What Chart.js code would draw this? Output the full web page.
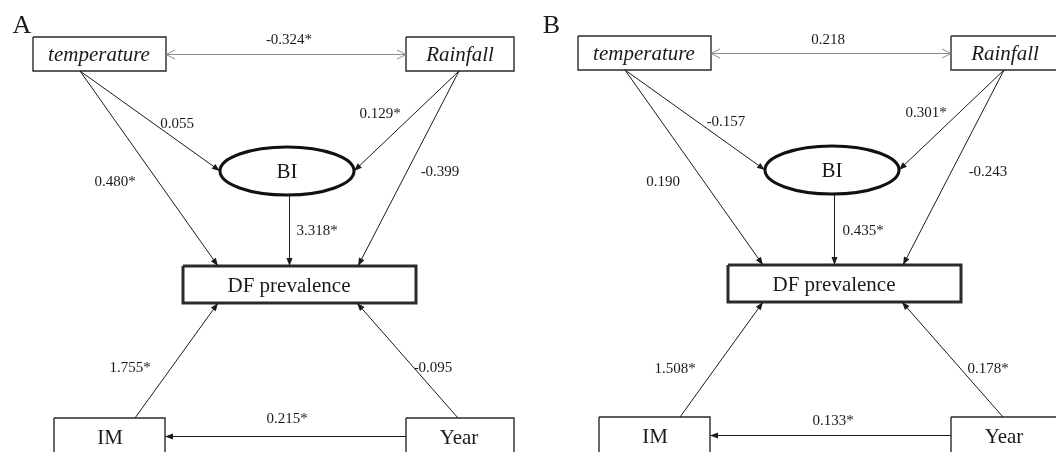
<!DOCTYPE html>
<html>
<head>
<meta charset="utf-8">
<title>Path analysis – DF prevalence</title>
<script src="https://cdn.jsdelivr.net/npm/chart.js@4.4.1/dist/chart.umd.min.js"></script>
<style>
  html, body { margin: 0; padding: 0; background: #fff; }
  #wrap { width: 1056px; height: 452px; overflow: hidden; }
</style>
</head>
<body>
<div id="wrap"><canvas id="chart" width="1056" height="452"></canvas></div>
<script>
/* ===== Data ===== */
const panelLetters = ['A', 'B'];
const nodeNames = ['temperature', 'Rainfall', 'BI', 'DF prevalence', 'IM', 'Year'];
// paths as node indexes, same order as the coefficient arrays
const pathFrom = [0, 0, 1, 1, 2, 4, 5, 5, 0];
const pathTo   = [2, 3, 2, 3, 3, 3, 3, 4, 1];
const coefA = [0.055, 0.480, 0.129, -0.399, 3.318, 1.755, -0.095, 0.215, -0.324];
const sigA  = [false, true, true, false, true, true, false, true, true];
const coefB = [-0.157, 0.190, 0.301, -0.243, 0.435, 1.508, 0.178, 0.133, 0.218];
const sigB  = [false, false, true, false, true, true, true, true, false];

/* ===== Layout (diagram units, panel A; panel B is shifted) ===== */
const panelShift = [[0, 0], [545, -1]];
const letterPos = [[22, 33], [6.5, 34]];   // baseline positions
// node bounds [left, top, right, bottom]
const nodeBox = [
  [33, 37, 166, 71],
  [406, 37, 514, 71],
  [220, 147, 354, 195],
  [183, 266, 416, 303],
  [54, 418, 165, 470],
  [406, 418, 514, 470]
];
const nodeTextPos = [[99, 55], [460, 55], [287, 172], [289, 286], [110, 438], [459, 438]];
const nodeItalic = [true, true, false, false, false, false];
const nodeHeavy = [false, false, true, true, false, false];
const nodeEllipse = [false, false, true, false, false, false];
// arrow anchors [x1, y1, x2, y2] per path (half pixels keep straight lines crisp)
const pathAnchor = [
  [80, 71, 220, 171],
  [80, 71, 218, 266],
  [459, 71, 354, 171],
  [459, 71, 358, 266],
  [289.5, 195, 289.5, 266],
  [135, 418, 218, 303],
  [458, 418, 357, 303],
  [406, 436.5, 165, 436.5],
  [166, 54.5, 406, 54.5]
];
const labelPos = [
  [[177, 124], [115, 182], [380, 114], [440, 172], [317, 231], [130, 368], [433, 368], [287, 419], [289, 40]],
  [[181, 123], [118, 183], [381, 114], [443, 173], [318, 232], [130, 370], [443, 370], [288, 422], [283, 41]]
];

const SERIF = "'Liberation Serif', 'Times New Roman', serif";
const INK = '#1a1a1a';

function fmt(v, sig) {
  return v.toFixed(3) + (sig ? '*' : '');
}

/* ===== Datasets: paths + rectangular nodes ===== */
const datasets = [];
panelLetters.forEach((letter, p) => {
  const [dx, dy] = panelShift[p];
  pathFrom.forEach((from, i) => {
    const a = pathAnchor[i];
    const twoWay = i === pathFrom.length - 1;
    datasets.push({
      label: letter + ': ' + nodeNames[from] + ' → ' + nodeNames[pathTo[i]],
      data: [{ x: a[0] + dx, y: a[1] + dy }, { x: a[2] + dx, y: a[3] + dy }],
      showLine: true,
      borderColor: twoWay ? '#8a8a8a' : INK,
      borderWidth: 1,
      pointRadius: 0,
      clip: false,
      arrow: twoWay ? 'both' : 'end'
    });
  });
  nodeNames.forEach((name, n) => {
    if (nodeEllipse[n]) return;
    const [l, t, r, b] = nodeBox[n];
    datasets.push({
      label: letter + ': ' + name,
      data: [
        { x: l + dx, y: t + dy }, { x: r + dx, y: t + dy },
        { x: r + dx, y: b + dy }, { x: l + dx, y: b + dy }, { x: l + dx, y: t + dy }
      ],
      showLine: true,
      borderColor: '#2a2a2a',
      borderWidth: nodeHeavy[n] ? 3 : 1.4,
      borderJoinStyle: 'miter',
      pointRadius: 0,
      clip: false
    });
  });
});

/* ===== Plugin: arrowheads, ellipse, texts ===== */
const diagramPlugin = {
  id: 'pathDiagram',
  afterDatasetsDraw(chart) {
    const { ctx, scales: { x, y } } = chart;
    const px = v => x.getPixelForValue(v);
    const py = v => y.getPixelForValue(v);
    ctx.save();

    // arrowheads at the library-placed end points
    chart.data.datasets.forEach((ds, i) => {
      if (!ds.arrow) return;
      const pts = chart.getDatasetMeta(i).data;
      const head = (tip, tail, open) => {
        const ang = Math.atan2(tip.y - tail.y, tip.x - tail.x);
        const len = open ? 9 : 8, half = open ? 4.5 : 3;
        const bx = tip.x - len * Math.cos(ang), by = tip.y - len * Math.sin(ang);
        const nx = -Math.sin(ang) * half, ny = Math.cos(ang) * half;
        ctx.beginPath();
        ctx.moveTo(bx + nx, by + ny);
        ctx.lineTo(tip.x, tip.y);
        ctx.lineTo(bx - nx, by - ny);
        if (open) {
          ctx.strokeStyle = ds.borderColor;
          ctx.lineWidth = 1;
          ctx.stroke();
        } else {
          ctx.closePath();
          ctx.fillStyle = ds.borderColor;
          ctx.fill();
        }
      };
      if (ds.arrow === 'both') {
        head(pts[0], pts[1], true);
        head(pts[1], pts[0], true);
      } else {
        head(pts[1], pts[0], false);
      }
    });

    panelLetters.forEach((letter, p) => {
      const [dx, dy] = panelShift[p];

      // ellipse node (BI)
      nodeNames.forEach((name, n) => {
        if (!nodeEllipse[n]) return;
        const [l, t, r, b] = nodeBox[n];
        const cx = px((l + r) / 2 + dx), cy = py((t + b) / 2 + dy);
        ctx.beginPath();
        ctx.ellipse(cx, cy, (px(r) - px(l)) / 2, (py(b) - py(t)) / 2, 0, 0, Math.PI * 2);
        ctx.strokeStyle = '#111';
        ctx.lineWidth = 3;
        ctx.stroke();
      });

      ctx.textAlign = 'center';
      ctx.textBaseline = 'middle';
      ctx.fillStyle = INK;

      // node names
      nodeNames.forEach((name, n) => {
        const [tx, ty] = nodeTextPos[n];
        ctx.font = (nodeItalic[n] ? 'italic ' : '') + '21px ' + SERIF;
        ctx.fillText(name, px(tx + dx), py(ty + dy));
      });

      // path coefficients
      const coef = p === 0 ? coefA : coefB;
      const sig = p === 0 ? sigA : sigB;
      ctx.font = '15px ' + SERIF;
      coef.forEach((v, i) => {
        const [lx, ly] = labelPos[p][i];
        ctx.fillText(fmt(v, sig[i]), px(lx + dx), py(ly + dy));
      });

      // panel letter
      ctx.font = '26px ' + SERIF;
      ctx.textBaseline = 'alphabetic';
      ctx.fillText(letter, px(letterPos[p][0] + dx), py(letterPos[p][1] + dy));
    });

    ctx.restore();
  }
};

new Chart(document.getElementById('chart'), {
  type: 'scatter',
  data: { datasets },
  options: {
    responsive: false,
    animation: false,
    events: [],
    layout: { padding: 0 },
    plugins: { legend: { display: false }, tooltip: { enabled: false } },
    scales: {
      x: { type: 'linear', min: 0, max: 1056, display: false },
      y: { type: 'linear', min: 0, max: 452, reverse: true, display: false }
    }
  },
  plugins: [diagramPlugin]
});
</script>
</body>
</html>
